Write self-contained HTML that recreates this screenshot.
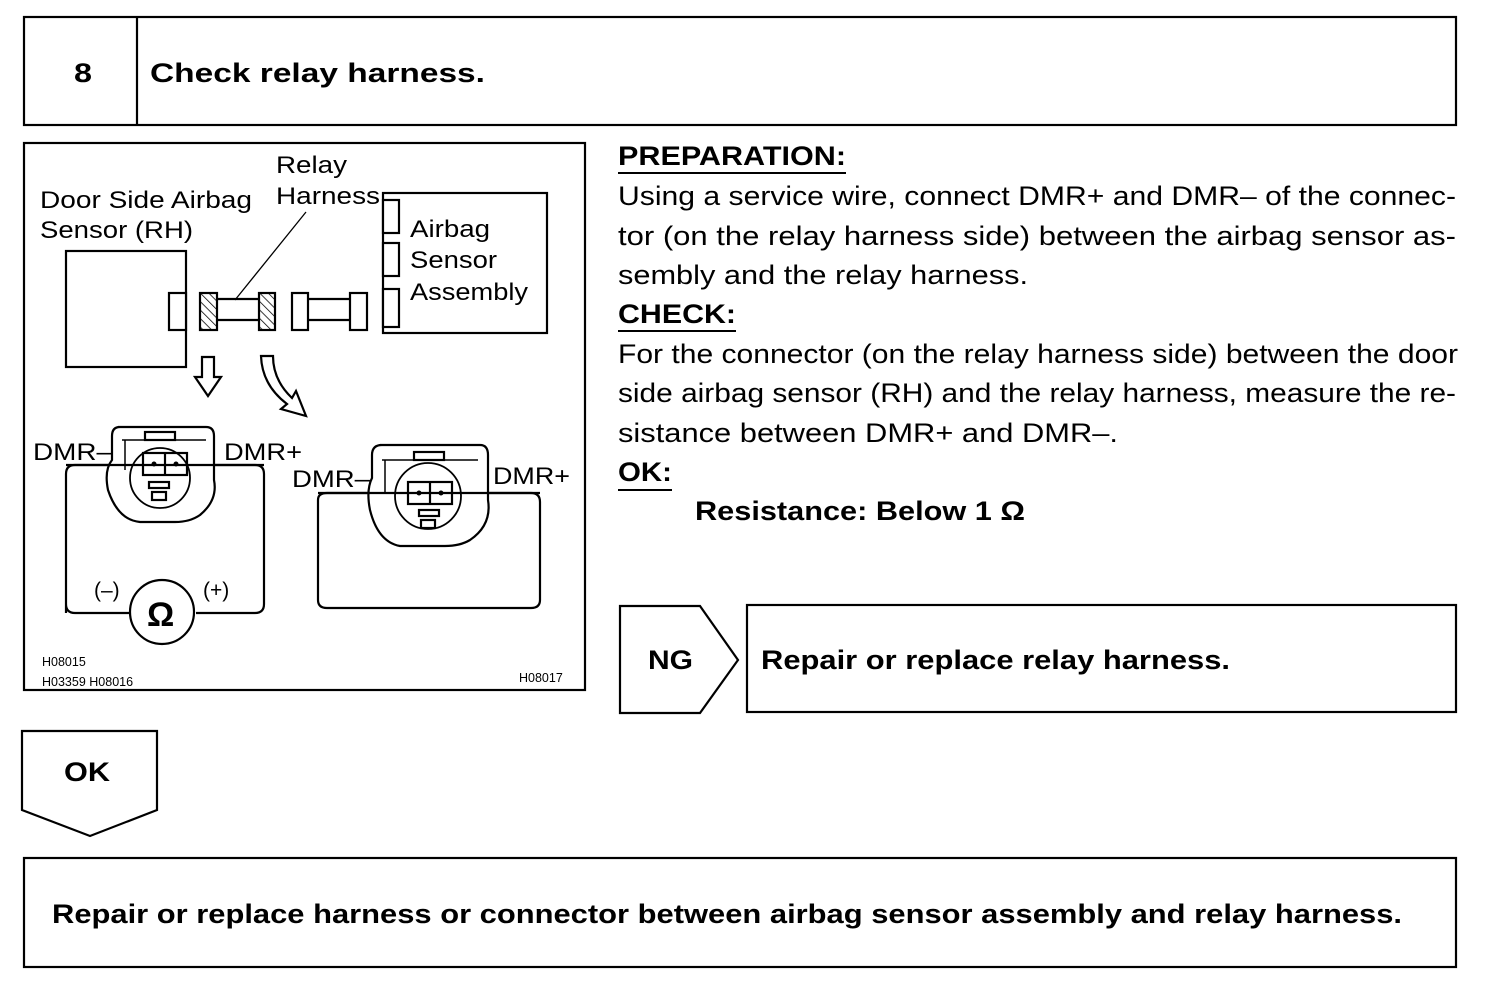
<!DOCTYPE html>
<html><head><meta charset="utf-8"><style>html,body{margin:0;padding:0;background:#fff}svg{display:block}</style></head>
<body>
<svg width="1504" height="998" viewBox="0 0 1504 998" xmlns="http://www.w3.org/2000/svg" font-family="'Liberation Sans', sans-serif">
<g fill="none" stroke="#000" stroke-width="2.2">
<rect x="24" y="17" width="1432" height="108"/>
<line x1="137" y1="17" x2="137" y2="125"/>
<rect x="24" y="143" width="561" height="547"/>
<polygon points="620,606 700,606 738,660 700,713 620,713"/>
<rect x="747" y="605" width="709" height="107"/>
<polygon points="22,731 157,731 157,810 90,836 22,810"/>
<rect x="24" y="858" width="1432" height="109"/>
</g>
<g font-weight="bold" font-size="27" lengthAdjust="spacingAndGlyphs">
<text x="74" y="82" textLength="18" lengthAdjust="spacingAndGlyphs">8</text>
<text x="150" y="82" textLength="335" lengthAdjust="spacingAndGlyphs">Check relay harness.</text>
<text x="648" y="669" textLength="45" lengthAdjust="spacingAndGlyphs">NG</text>
<text x="761" y="669" textLength="469" lengthAdjust="spacingAndGlyphs">Repair or replace relay harness.</text>
<text x="64" y="781" textLength="46" lengthAdjust="spacingAndGlyphs">OK</text>
<text x="52" y="923" textLength="1350" lengthAdjust="spacingAndGlyphs">Repair or replace harness or connector between airbag sensor assembly and relay harness.</text>
</g>
<g font-size="27">
<text x="618" y="165" font-weight="bold" textLength="228" lengthAdjust="spacingAndGlyphs">PREPARATION:</text>
<line x1="618" y1="173" x2="846" y2="173" stroke="#000" stroke-width="2"/>
<text x="618" y="205" textLength="838" lengthAdjust="spacingAndGlyphs">Using a service wire, connect DMR+ and DMR– of the connec-</text>
<text x="618" y="245" textLength="838" lengthAdjust="spacingAndGlyphs">tor (on the relay harness side) between the airbag sensor as-</text>
<text x="618" y="284" textLength="410" lengthAdjust="spacingAndGlyphs">sembly and the relay harness.</text>
<text x="618" y="323" font-weight="bold" textLength="118" lengthAdjust="spacingAndGlyphs">CHECK:</text>
<line x1="618" y1="331" x2="736" y2="331" stroke="#000" stroke-width="2"/>
<text x="618" y="363" textLength="840" lengthAdjust="spacingAndGlyphs">For the connector (on the relay harness side) between the door</text>
<text x="618" y="402" textLength="838" lengthAdjust="spacingAndGlyphs">side airbag sensor (RH) and the relay harness, measure the re-</text>
<text x="618" y="442" textLength="500" lengthAdjust="spacingAndGlyphs">sistance between DMR+ and DMR–.</text>
<text x="618" y="481" font-weight="bold" textLength="54" lengthAdjust="spacingAndGlyphs">OK:</text>
<line x1="618" y1="490" x2="672" y2="490" stroke="#000" stroke-width="2"/>
<text x="695" y="520" font-weight="bold" textLength="330" lengthAdjust="spacingAndGlyphs">Resistance: Below 1 Ω</text>
</g>
<defs><pattern id="h" width="6" height="6" patternUnits="userSpaceOnUse" patternTransform="rotate(-45)"><line x1="0" y1="0" x2="0" y2="6" stroke="#000" stroke-width="1.5"/></pattern></defs>
<g fill="none" stroke="#000" stroke-width="2.2">
<rect x="66" y="251" width="120" height="116"/>
<rect x="169" y="293" width="17" height="37" fill="#fff"/>
<rect x="200" y="293" width="17" height="37" fill="url(#h)"/>
<rect x="259" y="293" width="16" height="37" fill="url(#h)"/>
<line x1="217" y1="299" x2="259" y2="299"/><line x1="217" y1="320" x2="259" y2="320"/>
<rect x="292" y="293" width="16" height="37"/>
<rect x="350" y="293" width="17" height="37"/>
<line x1="308" y1="299" x2="350" y2="299"/><line x1="308" y1="320" x2="350" y2="320"/>
<rect x="383" y="193" width="164" height="140"/>
<rect x="383" y="200" width="16" height="33" fill="#fff"/>
<rect x="383" y="243" width="16" height="33" fill="#fff"/>
<rect x="383" y="289" width="16" height="38" fill="#fff"/>
<line x1="306" y1="212" x2="235" y2="300" stroke-width="1.3"/>
<polygon points="202,357 214,357 214,377 221,377 208,396 195,377 202,377"/>
<path d="M261,356 L273,356 Q273,380 292,398 L296,391 L306,416 L281,409 L287,404 Q262,385 261,356 Z"/>
<path d="M66,613 V474 Q66,465 75,465 H255 Q264,465 264,474 V604 Q264,613 255,613 H196 M130,613 H75 Q66,613 66,604"/>
<circle cx="162" cy="612" r="32" fill="#fff"/>
<path d="M118,427 H206 Q214,427 214,436 V480 Q218,500 200,515 Q190,522 175,522 H140 Q118,520 108,490 Q104,470 112,460 V436 Q112,427 120,427 Z" fill="#fff"/>
<path d="M122,440 H206 M125,440 V470" stroke-width="1.5"/>
<circle cx="160" cy="478" r="30" stroke-width="1.8"/>
<rect x="143" y="453" width="44" height="22"/>
<line x1="165" y1="453" x2="165" y2="475"/>
<rect x="149" y="482" width="20" height="6"/>
<rect x="152" y="492" width="14" height="8"/>
<rect x="145" y="432" width="30" height="8"/>
<line x1="66" y1="465" x2="264" y2="465"/>
<path d="M318,500 Q318,493 327,493 H531 Q540,493 540,502 V600 Q540,608 531,608 H327 Q318,608 318,600 Z"/>
<path d="M380,445 H480 Q488,445 488,455 V500 Q492,525 470,540 Q460,546 445,546 H400 Q378,542 370,510 Q366,490 372,478 V455 Q372,445 382,445 Z" fill="#fff"/>
<path d="M382,460 H478 M385,460 V492" stroke-width="1.5"/>
<circle cx="428" cy="496" r="33" stroke-width="1.8"/>
<rect x="408" y="482" width="44" height="22"/>
<line x1="430" y1="482" x2="430" y2="504"/>
<rect x="419" y="510" width="20" height="6"/>
<rect x="421" y="520" width="14" height="8"/>
<rect x="414" y="452" width="30" height="8"/>
<line x1="318" y1="493" x2="540" y2="493"/>
</g>
<g fill="#000"><circle cx="154" cy="464" r="2.5"/><circle cx="176" cy="464" r="2.5"/><circle cx="419" cy="493" r="2.5"/><circle cx="441" cy="493" r="2.5"/></g>
<g font-size="24">
<text x="276" y="173" textLength="71" lengthAdjust="spacingAndGlyphs">Relay</text>
<text x="276" y="204" textLength="104" lengthAdjust="spacingAndGlyphs">Harness</text>
<text x="40" y="208" textLength="212" lengthAdjust="spacingAndGlyphs">Door Side Airbag</text>
<text x="40" y="238" textLength="153" lengthAdjust="spacingAndGlyphs">Sensor (RH)</text>
<text x="410" y="237" textLength="80" lengthAdjust="spacingAndGlyphs">Airbag</text>
<text x="410" y="268" textLength="87" lengthAdjust="spacingAndGlyphs">Sensor</text>
<text x="410" y="300" textLength="118" lengthAdjust="spacingAndGlyphs">Assembly</text>
<text x="33" y="460" textLength="79" lengthAdjust="spacingAndGlyphs">DMR–</text>
<text x="224" y="460" textLength="78" lengthAdjust="spacingAndGlyphs">DMR+</text>
<text x="292" y="487" textLength="78" lengthAdjust="spacingAndGlyphs">DMR–</text>
<text x="493" y="484" textLength="77" lengthAdjust="spacingAndGlyphs">DMR+</text>
<text x="94" y="597" font-size="21">(–)</text>
<text x="203" y="597" font-size="21">(+)</text>
<text x="147" y="626" font-size="34" font-weight="bold">Ω</text>
</g>
<g font-size="12.5">
<text x="42" y="666">H08015</text>
<text x="42" y="686">H03359 H08016</text>
<text x="519" y="682">H08017</text>
</g>
</svg>
</body></html>
